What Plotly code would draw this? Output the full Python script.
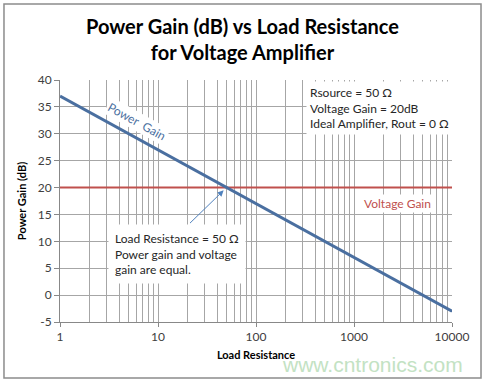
import plotly.graph_objects as go

load_resistance = [1, 10, 100, 1000, 10000]
power_gain_db = [37, 27, 17, 7, -3]
voltage_gain_db = [20, 20, 20, 20, 20]

x_tick_vals = [1, 10, 100, 1000, 10000]
x_tick_text = ["1", "10", "100", "1000", "10000"]
y_tick_vals = [-5, 0, 5, 10, 15, 20, 25, 30, 35, 40]
y_tick_text = ["-5", "0", "5", "10", "15", "20", "25", "30", "35", "40"]

minor_vals = [m * 10 ** d for d in range(4) for m in range(2, 10)]

FONT = "Lato"
GRID = "#A6A6A6"
BLUE = "#4A6FA0"
RED = "#C0504D"

fig = go.Figure()
fig.add_trace(go.Scatter(x=load_resistance, y=voltage_gain_db, mode="lines",
                         line=dict(color=RED, width=2), name="Voltage Gain"))
fig.add_trace(go.Scatter(x=load_resistance, y=power_gain_db, mode="lines",
                         line=dict(color=BLUE, width=3), name="Power Gain"))

fig.update_layout(
    width=486, height=382,
    margin=dict(l=60, r=34, t=80, b=60),
    paper_bgcolor="white", plot_bgcolor="white",
    showlegend=False,
    font=dict(family=FONT, size=12, color="#404040"),
    xaxis=dict(type="log", range=[0, 4], tickvals=x_tick_vals, ticktext=x_tick_text,
               showgrid=True, gridcolor=GRID, gridwidth=1,
               showline=True, linecolor="#888888", linewidth=1,
               ticks="outside", ticklen=4, tickcolor="#888888",
               minor=dict(tickvals=minor_vals, showgrid=True, gridcolor=GRID, gridwidth=1),
               title=dict(text="<b>Load Resistance</b>", font=dict(size=11, color="black"), standoff=7),
               tickfont=dict(size=12, color="#404040"), zeroline=False),
    yaxis=dict(range=[-5, 40], tickvals=y_tick_vals, ticktext=y_tick_text,
               showgrid=True, gridcolor=GRID, gridwidth=1,
               showline=True, linecolor="#888888", linewidth=1,
               ticks="outside", ticklen=5, tickcolor="#888888",
               title=dict(text="<b>Power Gain (dB)</b>", font=dict(size=11, color="black"), standoff=8),
               tickfont=dict(size=12, color="#404040"), zeroline=False),
)

fig.add_annotation(x=0.466, y=1.169, xref="paper", yref="paper",
                   xanchor="center", yanchor="middle",
                   text="<b>Power Gain (dB) vs Load Resistance<br>for Voltage Amplifier</b>",
                   showarrow=False, font=dict(family=FONT, size=20, color="black"))

fig.add_annotation(x=0.786, y=32.3, xref="x", yref="y", text="Power  Gain",
                   showarrow=False, textangle=29, font=dict(size=12, color=BLUE),
                   bgcolor="white")

fig.add_annotation(x=0.628, y=0.997, xref="paper", yref="paper",
                   xanchor="left", yanchor="top", align="left",
                   text="Rsource = 50 Ω<br>Voltage Gain = 20dB<br>Ideal Amplifier, Rout = 0 Ω",
                   showarrow=False, font=dict(size=12, color="#262626"),
                   bgcolor="white", borderpad=3)

fig.add_annotation(x=0.86, y=0.488, xref="paper", yref="paper",
                   xanchor="center", yanchor="middle",
                   text="Voltage Gain", showarrow=False,
                   font=dict(size=12, color=RED), bgcolor="white")

fig.add_annotation(x=0.122, y=0.405, xref="paper", yref="paper",
                   xanchor="left", yanchor="top", align="left",
                   text="Load Resistance = 50 Ω<br>Power gain and voltage<br>gain are equal.",
                   showarrow=False, font=dict(size=12, color="#262626"),
                   bgcolor="white", borderpad=6)

fig.add_annotation(x=1.699, y=20, xref="x", yref="y", text="",
                   showarrow=True, ax=-38, ay=37, arrowhead=2, arrowsize=1.2,
                   arrowwidth=1, arrowcolor="#4F81BD", standoff=4)

fig.add_annotation(x=1.033, y=-0.175, xref="paper", yref="paper",
                   xanchor="right", yanchor="middle",
                   text="www.cntronics.com", showarrow=False,
                   font=dict(family="Liberation Sans", size=21, color="#C3E2C3"))

fig.add_shape(type="rect", xref="paper", yref="paper",
              x0=-0.1429, x1=1.074, y0=-0.231, y1=1.314,
              line=dict(color="#8C8C8C", width=1.5), fillcolor="rgba(0,0,0,0)", layer="below")

fig.write_html("out.html", config={"displayModeBar": False},
               post_script="document.body.style.margin='0';document.body.style.padding='0';")
